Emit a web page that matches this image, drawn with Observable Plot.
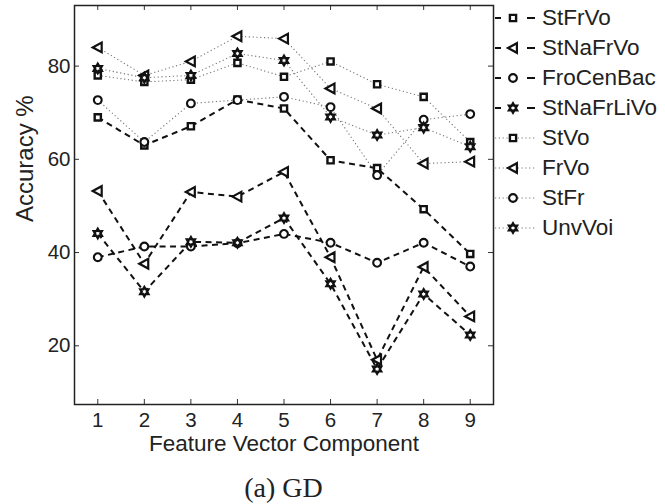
<!DOCTYPE html>
<html><head><meta charset="utf-8">
<script src="https://cdn.jsdelivr.net/npm/d3@7"></script>
<script src="https://cdn.jsdelivr.net/npm/@observablehq/plot@0.6"></script>
<style>
body{margin:0;background:#fff;}
#wrap{position:relative;width:665px;height:504px;font-family:"Liberation Sans",Arial,sans-serif;}
#chart{position:absolute;left:0;top:0;}
#legend{position:absolute;left:493px;top:3px;}
.row{display:flex;align-items:center;height:30px;font-size:22.5px;color:#222;}
.row svg{display:block;margin-right:2px;}
#caption{position:absolute;left:74px;width:419px;top:471px;line-height:34px;text-align:center;font-family:"Liberation Serif","DejaVu Serif",serif;font-size:28px;color:#222;}
</style></head>
<body><div id="wrap"><div id="chart"></div><div id="legend"></div><div id="caption">(a) GD</div></div>
<script>
// ---- data ----
const components = [1, 2, 3, 4, 5, 6, 7, 8, 9];
const seriesNames = ["StFrVo", "StNaFrVo", "FroCenBac", "StNaFrLiVo", "StVo", "FrVo", "StFr", "UnvVoi"];
const StFrVo     = [69.0, 63.0, 67.1, 72.8, 70.9, 59.8, 58.1, 49.3, 39.7];
const StNaFrVo   = [53.2, 37.6, 53.0, 52.0, 57.3, 39.0, 17.0, 36.9, 26.3];
const FroCenBac  = [39.0, 41.3, 41.3, 42.0, 44.0, 42.1, 37.8, 42.1, 37.0];
const StNaFrLiVo = [44.1, 31.6, 42.3, 42.1, 47.4, 33.3, 15.0, 31.1, 22.3];
const StVo       = [78.0, 76.6, 77.1, 80.7, 77.7, 81.0, 76.1, 73.4, 63.7];
const FrVo       = [84.0, 78.0, 81.0, 86.4, 85.9, 75.2, 70.9, 59.1, 59.5];
const StFr       = [72.7, 63.7, 72.0, 72.7, 73.4, 71.2, 56.6, 68.5, 69.7];
const UnvVoi     = [79.5, 77.5, 78.0, 82.7, 81.2, 69.1, 65.2, 66.8, 62.7];
const xTicks = [1, 2, 3, 4, 5, 6, 7, 8, 9];
const yTicks = [20, 40, 60, 80];
const xLabel = "Feature Vector Component";
const yLabel = "Accuracy %";

const seriesValues = [StFrVo, StNaFrVo, FroCenBac, StNaFrLiVo, StVo, FrVo, StFr, UnvVoi];
const lineStyles = ["dashed", "dashed", "dashed", "dashed", "dotted", "dotted", "dotted", "dotted"];

// ---- symbols ----
const leftTriangle = {draw(ctx, size) {
  const r = Math.sqrt(size / Math.PI);
  ctx.moveTo(-1.1 * r, 0); ctx.lineTo(0.85 * r, -1.05 * r); ctx.lineTo(0.85 * r, 1.05 * r); ctx.closePath();
}};
const hexagram = {draw(ctx, size) {
  const r = Math.sqrt(size / Math.PI) * 1.25;
  for (let k = 0; k < 12; k++) {
    const a = -Math.PI / 2 + k * Math.PI / 6;
    const rr = k % 2 === 0 ? r : r / Math.sqrt(3);
    const px = rr * Math.cos(a), py = rr * Math.sin(a);
    if (k === 0) ctx.moveTo(px, py); else ctx.lineTo(px, py);
  }
  ctx.closePath();
}};
const markerSymbols = [d3.symbolSquare, leftTriangle, d3.symbolCircle, hexagram, d3.symbolSquare, leftTriangle, d3.symbolCircle, hexagram];
const markerR = [3.5, 4.6, 3.9, 3.7, 3.5, 4.6, 3.9, 3.7];
const markerSW = [2.4, 2.2, 2.1, 2.4, 2.4, 2.2, 2.1, 2.4];

const styleOf = (s) => lineStyles[s] === "dashed"
  ? {stroke: "#111", strokeWidth: 2, strokeDasharray: "6,4.5"}
  : {stroke: "#777", strokeWidth: 1.1, strokeDasharray: "1.2,2.6"};

// tidy table
const table = [];
seriesNames.forEach((name, s) => components.forEach((c, i) => table.push({series: s, name, x: c, y: seriesValues[s][i]})));

const W = 665, H = 470;
const mL = 74, mR = 172, mT = 5, mB = 66;
const xDomain = [0.5, 9.5], yDomain = [7.4, 93];
const tickLenY = 5 * (yDomain[1] - yDomain[0]) / (H - mT - mB);
const tickLenX = 5 * (xDomain[1] - xDomain[0]) / (W - mL - mR);

const marks = [];
seriesNames.forEach((name, s) => {
  marks.push(Plot.line(table.filter(d => d.series === s), {x: "x", y: "y", ...styleOf(s), strokeLinecap: "butt"}));
});
seriesNames.forEach((name, s) => {
  marks.push(Plot.dot(table.filter(d => d.series === s), {x: "x", y: "y", symbol: () => markerSymbols[s], r: markerR[s], stroke: "#111", strokeWidth: markerSW[s], fill: "white"}));
});
// inward ticks (MATLAB box style)
marks.push(Plot.ruleX(xTicks, {x: d => d, y1: yDomain[0], y2: yDomain[0] + tickLenY, stroke: "#333"}));
marks.push(Plot.ruleX(xTicks, {x: d => d, y1: yDomain[1] - tickLenY, y2: yDomain[1], stroke: "#333"}));
marks.push(Plot.ruleY(yTicks, {y: d => d, x1: xDomain[0], x2: xDomain[0] + tickLenX, stroke: "#333"}));
marks.push(Plot.ruleY(yTicks, {y: d => d, x1: xDomain[1] - tickLenX, x2: xDomain[1], stroke: "#333"}));
marks.push(Plot.frame({stroke: "#222", strokeWidth: 1.5}));
marks.push(Plot.axisX(xTicks, {tickSize: 0, tickPadding: 8, fontSize: 20.5, fill: "#222", label: null}));
marks.push(Plot.axisY(yTicks, {tickSize: 0, tickPadding: 4, fontSize: 20.5, fill: "#222", label: null}));
marks.push(Plot.text([xLabel], {text: d => d, frameAnchor: "bottom", dy: 46, fontSize: 22.5, fill: "#222"}));
marks.push(Plot.text([yLabel], {text: d => d, frameAnchor: "left", dx: -49, dy: 17, rotate: -90, fontSize: 24, fill: "#222"}));

const chart = Plot.plot({
  width: W, height: H,
  marginLeft: mL, marginRight: mR, marginTop: mT, marginBottom: mB,
  style: {fontFamily: "'Liberation Sans', Arial, sans-serif", background: "white"},
  x: {domain: xDomain, label: null},
  y: {domain: yDomain, label: null},
  symbol: {type: "identity"},
  marks
});
document.getElementById("chart").appendChild(chart);

// ---- legend ----
const legend = d3.select("#legend");
seriesNames.forEach((name, s) => {
  const row = legend.append("div").attr("class", "row");
  const svg = row.append("svg").attr("width", 47).attr("height", 30);
  const st = styleOf(s);
  svg.append("line").attr("x1", 2).attr("x2", 42).attr("y1", 15).attr("y2", 15)
    .attr("stroke", st.stroke).attr("stroke-width", st.strokeWidth).attr("stroke-dasharray", lineStyles[s] === "dashed" ? "6,28" : st.strokeDasharray);
  if (lineStyles[s] === "dashed") {
    svg.append("line").attr("x1", 34).attr("x2", 40).attr("y1", 15).attr("y2", 15).attr("stroke", st.stroke).attr("stroke-width", st.strokeWidth);
  }
  const size = Math.PI * markerR[s] * markerR[s];
  svg.append("path").attr("transform", "translate(20,15)").attr("d", d3.symbol(markerSymbols[s], size)())
    .attr("fill", "white").attr("stroke", "#111").attr("stroke-width", markerSW[s]);
  row.append("span").text(name);
});
</script>
</body></html>
